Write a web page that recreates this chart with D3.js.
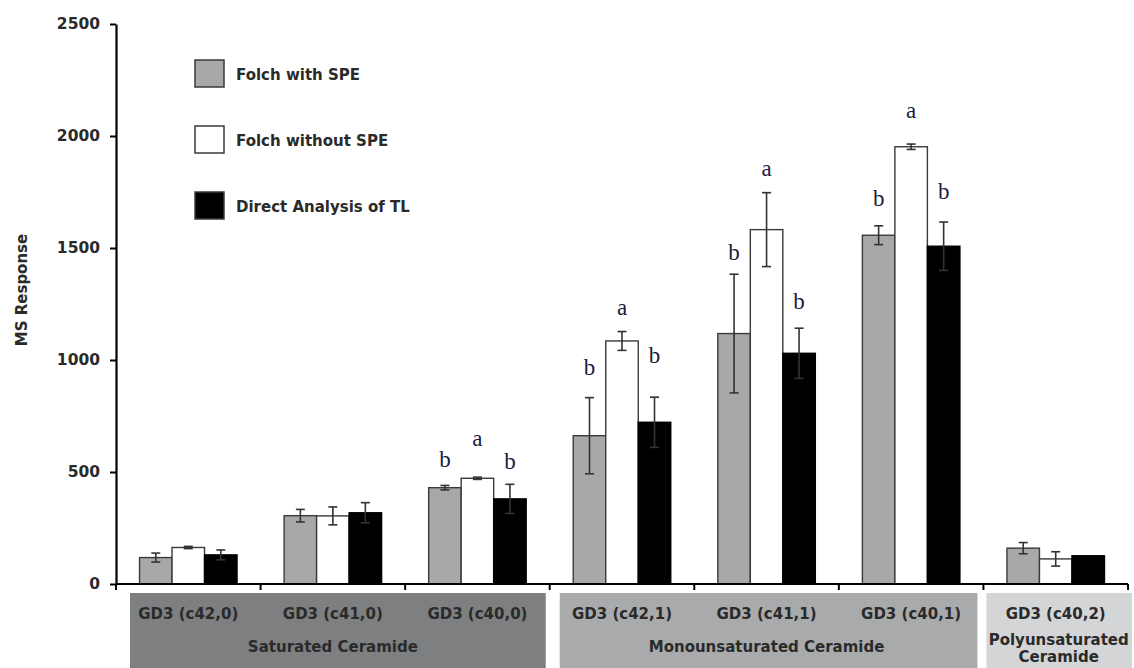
<!DOCTYPE html>
<html>
<head>
<meta charset="utf-8">
<script src="https://cdn.jsdelivr.net/npm/d3@7"></script>
<style>
  body { margin: 0; background: #fff; }
  text { font-family: "DejaVu Sans", Verdana, sans-serif; }
</style>
</head>
<body>
<div id="chart"></div>
<script>
// data
var categories = ["GD3 (c42,0)", "GD3 (c41,0)", "GD3 (c40,0)", "GD3 (c42,1)", "GD3 (c41,1)", "GD3 (c40,1)", "GD3 (c40,2)"];
var seriesNames = ["Folch with SPE", "Folch without SPE", "Direct Analysis of TL"];
var folchSPE = [118, 305, 430, 662, 1118, 1557, 160];
var folchSPEErr = [20, 28, 10, 170, 265, 42, 25];
var folchNoSPE = [163, 304, 472, 1085, 1582, 1952, 112];
var folchNoSPEErr = [5, 40, 5, 42, 165, 12, 32];
var directTL = [130, 318, 380, 722, 1030, 1508, 126];
var directTLErr = [22, 45, 65, 112, 112, 108, 0];
// significance letters and the level (MS response) where they sit
var letters = [
  ["", "", "b", "b", "b", "b", ""],
  ["", "", "a", "a", "a", "a", ""],
  ["", "", "b", "b", "b", "b", ""]
];
var letterAt = [
  [0, 0, 522, 933, 1446, 1688, 0],
  [0, 0, 616, 1201, 1821, 2080, 0],
  [0, 0, 513, 987, 1228, 1719, 0]
];
var groups = [
  {name: ["Saturated Ceramide"], from: 0, to: 2},
  {name: ["Monounsaturated Ceramide"], from: 3, to: 5},
  {name: ["Polyunsaturated", "Ceramide"], from: 6, to: 6}
];
var yTicks = [0, 500, 1000, 1500, 2000, 2500];

var w = 1134, h = 668;
var fills = ["#a7a8aa", "#ffffff", "#000000"];
var groupFills = ["#7e7f81", "#a9aaac", "#d4d5d7"];
var ink = "#2a2a2a";

var svg = d3.select("#chart").append("svg")
    .attr("width", w)
    .attr("height", h);

var x0 = d3.scaleBand().domain(categories).range([116, 1128]).paddingInner(0).paddingOuter(0);
var x1 = d3.scaleBand().domain(seriesNames).range([0, x0.bandwidth()]).paddingInner(0).paddingOuter(0.724);
var y = d3.scaleLinear().domain([0, 2500]).range([584, 24]);

var values = [folchSPE, folchNoSPE, directTL];
var errs = [folchSPEErr, folchNoSPEErr, directTLErr];

var rows = [];
categories.forEach(function(c, i) {
  seriesNames.forEach(function(s, j) {
    rows.push({cat: c, series: s, j: j, value: values[j][i], err: errs[j][i],
               letter: letters[j][i], letterAt: letterAt[j][i]});
  });
});

// group boxes under the axis (small insets as in the figure)
var insetL = [14, 10, 3], insetR = [4, 6, -4];
svg.selectAll("rect.group")
  .data(groups)
  .enter().append("rect")
    .attr("class", "group")
    .attr("x", function(d, i) { return x0(categories[d.from]) + insetL[i]; })
    .attr("y", 593)
    .attr("width", function(d, i) {
      return x0(categories[d.to]) + x0.bandwidth() - insetR[i] - x0(categories[d.from]) - insetL[i];
    })
    .attr("height", 80)
    .attr("fill", function(d, i) { return groupFills[i]; });

// category names
svg.selectAll("text.cat")
  .data(categories)
  .enter().append("text")
    .attr("class", "cat")
    .attr("x", function(d) { return x0(d) + x0.bandwidth() / 2; })
    .attr("y", 619)
    .attr("text-anchor", "middle")
    .attr("font-size", 15)
    .attr("font-weight", "bold")
    .attr("fill", ink)
    .text(function(d) { return d; });

// group names
groups.forEach(function(g, i) {
  var cx = (x0(categories[g.from]) + x0(categories[g.to]) + x0.bandwidth()) / 2;
  if (i == 2) cx += 3;
  g.name.forEach(function(line, k) {
    svg.append("text")
      .attr("x", cx)
      .attr("y", (g.name.length > 1 ? 645 : 652) + k * 17)
      .attr("text-anchor", "middle")
      .attr("font-size", 15)
      .attr("font-weight", "bold")
      .attr("fill", ink)
      .text(line);
  });
});

// bars
svg.selectAll("rect.bar")
  .data(rows)
  .enter().append("rect")
    .attr("class", "bar")
    .attr("x", function(d) { return x0(d.cat) + x1(d.series); })
    .attr("y", function(d) { return y(d.value); })
    .attr("width", x1.bandwidth())
    .attr("height", function(d) { return y(0) - y(d.value); })
    .attr("fill", function(d) { return fills[d.j]; })
    .attr("stroke", function(d) { return d.j == 2 ? "#000" : "#3a3a3a"; })
    .attr("stroke-width", 1.4);

// error bars
var eb = svg.selectAll("g.err")
  .data(rows.filter(function(d) { return d.err > 0; }))
  .enter().append("g")
    .attr("class", "err")
    .attr("stroke", "#333")
    .attr("stroke-width", 1.6);
eb.append("line")
  .attr("x1", function(d) { return x0(d.cat) + x1(d.series) + x1.bandwidth() / 2; })
  .attr("x2", function(d) { return x0(d.cat) + x1(d.series) + x1.bandwidth() / 2; })
  .attr("y1", function(d) { return y(d.value + d.err); })
  .attr("y2", function(d) { return y(d.value - d.err); });
[1, -1].forEach(function(sgn) {
  eb.append("line")
    .attr("x1", function(d) { return x0(d.cat) + x1(d.series) + x1.bandwidth() / 2 - 4.5; })
    .attr("x2", function(d) { return x0(d.cat) + x1(d.series) + x1.bandwidth() / 2 + 4.5; })
    .attr("y1", function(d) { return y(d.value + sgn * d.err); })
    .attr("y2", function(d) { return y(d.value + sgn * d.err); });
});

// significance letters
svg.selectAll("text.sig")
  .data(rows.filter(function(d) { return d.letter; }))
  .enter().append("text")
    .attr("class", "sig")
    .attr("x", function(d) { return x0(d.cat) + x1(d.series) + x1.bandwidth() / 2; })
    .attr("y", function(d) { return y(d.letterAt); })
    .attr("text-anchor", "middle")
    .style("font-family", "'Liberation Serif', 'DejaVu Serif', serif")
    .attr("font-size", 23)
    .attr("fill", "#1c1c40")
    .text(function(d) { return d.letter; });

// y axis
var yAxis = svg.append("g")
  .attr("transform", "translate(116,0)")
  .call(d3.axisLeft(y).tickValues(yTicks).tickSize(6).tickSizeOuter(0).tickFormat(d3.format("d")));
yAxis.select(".domain").attr("stroke", "#000").attr("stroke-width", 2.2);
yAxis.selectAll(".tick line").attr("stroke", "#000").attr("stroke-width", 2);
yAxis.selectAll(".tick text")
  .attr("x", -16)
  .attr("font-size", 15.5)
  .attr("font-weight", "bold")
  .attr("fill", ink)
  .style("font-family", "'DejaVu Sans', Verdana, sans-serif");

// x axis line with ticks at category edges
var edges = categories.map(function(c) { return x0(c); }).concat([x0.range()[1]]);
var xAxis = svg.append("g");
xAxis.append("line")
  .attr("x1", 116).attr("x2", x0.range()[1])
  .attr("y1", y(0)).attr("y2", y(0))
  .attr("stroke", "#000").attr("stroke-width", 2.2);
xAxis.selectAll("line.edge")
  .data(edges)
  .enter().append("line")
    .attr("class", "edge")
    .attr("x1", function(d) { return d; })
    .attr("x2", function(d) { return d; })
    .attr("y1", y(0))
    .attr("y2", y(0) + 6)
    .attr("stroke", "#000")
    .attr("stroke-width", 2);

// y label
svg.append("text")
  .attr("transform", "translate(27,290) rotate(-90)")
  .attr("text-anchor", "middle")
  .attr("font-size", 15)
  .attr("font-weight", "bold")
  .attr("fill", ink)
  .text("MS Response");

// legend
var legend = svg.selectAll("g.legend")
  .data(seriesNames)
  .enter().append("g")
    .attr("class", "legend")
    .attr("transform", function(d, i) { return "translate(195," + (60 + i * 66) + ")"; });
legend.append("rect")
  .attr("width", 29)
  .attr("height", 27)
  .attr("fill", function(d, i) { return fills[i]; })
  .attr("stroke", "#3a3a3a")
  .attr("stroke-width", 1.5);
legend.append("text")
  .attr("x", 41)
  .attr("y", 20)
  .attr("font-size", 15)
  .attr("font-weight", "bold")
  .attr("fill", ink)
  .text(function(d) { return d; });
</script>
</body>
</html>
